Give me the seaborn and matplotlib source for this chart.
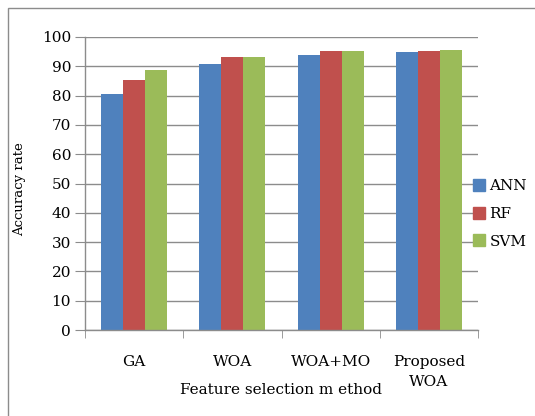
import matplotlib
matplotlib.use('Agg')
import matplotlib.pyplot as plt
import seaborn as sns
import pandas as pd
from matplotlib.lines import Line2D

methods = ['GA', 'WOA', 'WOA+MO', 'Proposed\nWOA']
classifiers = ['ANN', 'RF', 'SVM']
ann = [80.5, 90.8, 93.8, 94.8]
rf = [85.4, 93.2, 95.1, 95.1]
svm = [88.8, 93.2, 95.1, 95.7]
colors = ['#4F81BD', '#C0504D', '#9BBB59']

# long form table for seaborn
rows = []
for vals, clf in zip([ann, rf, svm], classifiers):
    for m, v in zip(methods, vals):
        rows.append({'method': m, 'clf': clf, 'acc': v})
df = pd.DataFrame(rows)

sns.set_style('white')
plt.rcParams['font.family'] = ['DejaVu Serif', 'Liberation Serif']
plt.rcParams['text.color'] = 'black'
plt.rcParams['axes.labelcolor'] = 'black'
plt.rcParams['xtick.color'] = 'black'
plt.rcParams['ytick.color'] = 'black'

fig = plt.figure(figsize=(5.35, 4.16), dpi=100)
ax = fig.add_axes([85 / 535, 86 / 416, 393 / 535, 293 / 416])

sns.barplot(data=df, x='method', y='acc', hue='clf', palette=colors,
            width=0.67, ax=ax, saturation=1, legend=False, linewidth=0)

ax.set_ylim(0, 100)
ax.set_xlim(-0.5, len(methods) - 0.5)
ax.set_yticks(range(0, 101, 10))
ax.yaxis.grid(True, color='#8c8c8c', lw=1)
ax.set_axisbelow(True)
for s in ['top', 'right']:
    ax.spines[s].set_visible(False)
for s in ['left', 'bottom']:
    ax.spines[s].set_color('#8c8c8c')
    ax.spines[s].set_linewidth(1)

ax.tick_params(axis='y', length=7, color='#8c8c8c', labelsize=11, pad=3, left=True)
ax.tick_params(axis='x', which='major', length=0, labelsize=11, pad=18)
ax.set_xticks([i - 0.5 for i in range(len(methods) + 1)], minor=True)
ax.tick_params(axis='x', which='minor', length=6, color='#8c8c8c', bottom=True)
for lab in ax.get_xticklabels():
    lab.set_linespacing(1.5)

ax.set_xlabel('Feature selection m ethod', fontsize=11, va='center')
ax.xaxis.set_label_coords(0.5, -0.205)
ax.set_ylabel('Accuracy rate', fontsize=9.5)
ax.yaxis.set_label_coords(-0.15, 0.48)

handles = [Line2D([], [], marker='s', ls='', color=c, markersize=8) for c in colors]
ax.legend(handles, classifiers, loc='center left', bbox_to_anchor=(0.967, 0.396),
          frameon=False, fontsize=11, handlelength=0.8, handletextpad=0.3,
          labelspacing=0.9, borderpad=0)

# outer chart frame (only top and left edges show)
fig.add_artist(plt.Rectangle((8 / 535, -0.1), 1.2, (416 - 8) / 416 + 0.1,
                             transform=fig.transFigure, fill=False,
                             ec='#8c8c8c', lw=1))

fig.savefig('out.png', dpi=100)
